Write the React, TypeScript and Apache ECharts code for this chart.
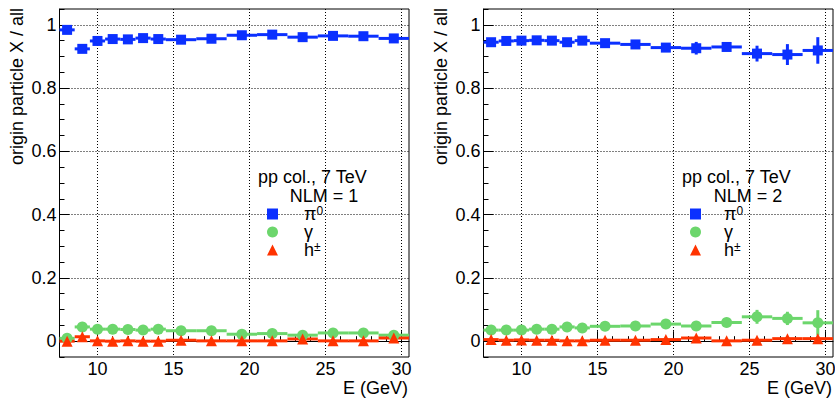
import React, { useEffect, useRef } from "react";
import * as echarts from "echarts";

// Bin centres (GeV) and half widths
const energy = [8, 9, 10, 11, 12, 13, 14, 15.5, 17.5, 19.5, 21.5, 23.5, 25.5, 27.5, 29.5];
const binHalfWidth = [0.5, 0.5, 0.5, 0.5, 0.5, 0.5, 0.5, 1, 1, 1, 1, 1, 1, 1, 1];

// NLM = 1
const pi0NLM1 = [0.984, 0.924, 0.949, 0.955, 0.954, 0.958, 0.955, 0.953, 0.956, 0.967, 0.969, 0.961, 0.965, 0.964, 0.957];
const pi0NLM1Err = [0.006, 0.005, 0.004, 0.004, 0.004, 0.004, 0.004, 0.003, 0.003, 0.004, 0.004, 0.005, 0.005, 0.006, 0.007];
const gammaNLM1 = [0.009, 0.045, 0.038, 0.038, 0.037, 0.035, 0.038, 0.033, 0.033, 0.022, 0.024, 0.019, 0.026, 0.026, 0.019];
const gammaNLM1Err = [0.004, 0.004, 0.003, 0.003, 0.003, 0.003, 0.003, 0.003, 0.003, 0.003, 0.003, 0.004, 0.004, 0.005, 0.005];
const hadNLM1 = [0.0, 0.014, 0.001, 0.0, 0.001, 0.0, 0.0, 0.003, 0.001, 0.001, 0.001, 0.007, 0.001, 0.001, 0.01];
const hadNLM1Err = [0.001, 0.002, 0.001, 0.001, 0.001, 0.001, 0.001, 0.001, 0.001, 0.001, 0.001, 0.002, 0.001, 0.001, 0.002];

// NLM = 2
const pi0NLM2 = [0.945, 0.949, 0.95, 0.951, 0.95, 0.945, 0.95, 0.942, 0.938, 0.928, 0.926, 0.93, 0.909, 0.906, 0.919];
const pi0NLM2Err = [0.004, 0.004, 0.004, 0.004, 0.004, 0.005, 0.005, 0.006, 0.008, 0.01, 0.02, 0.013, 0.025, 0.033, 0.042];
const gammaNLM2 = [0.035, 0.035, 0.035, 0.038, 0.038, 0.045, 0.042, 0.047, 0.048, 0.054, 0.048, 0.059, 0.077, 0.072, 0.058];
const gammaNLM2Err = [0.003, 0.003, 0.003, 0.003, 0.004, 0.004, 0.004, 0.005, 0.006, 0.007, 0.01, 0.01, 0.022, 0.021, 0.04];
const hadNLM2 = [0.005, 0.003, 0.004, 0.003, 0.003, 0.001, 0.001, 0.003, 0.003, 0.005, 0.01, 0.001, 0.003, 0.008, 0.008];
const hadNLM2Err = [0.001, 0.001, 0.001, 0.001, 0.001, 0.001, 0.001, 0.002, 0.002, 0.003, 0.004, 0.002, 0.003, 0.005, 0.006];

// Axes
const xRange = [7.5, 30.5];
const yRange = [-0.05, 1.05];
const xMajorTicks = [10, 15, 20, 25, 30];
const xMinorTicks = [8, 9, 11, 12, 13, 14, 16, 17, 18, 19, 21, 22, 23, 24, 26, 27, 28, 29];
const yMajorTicks = [0, 0.2, 0.4, 0.6, 0.8, 1];
const yMinorStep = 0.05;

const speciesNames = ["π0", "γ", "h±"];
const speciesColors = ["#0b30ff", "#6cd66c", "#ff3300"];
const speciesSymbols = ["rect", "circle", "triangle"];
const speciesSizes = [10, 11, 11];
const panelTitles = ["pp col., 7 TeV", "pp col., 7 TeV"];
const panelNLM = ["NLM = 1", "NLM = 2"];
const yTitle = "origin particle X / all";
const xTitle = "E (GeV)";

const FONT = "'Liberation Sans', Arial, Helvetica, sans-serif";

const panels = [
  { values: [pi0NLM1, gammaNLM1, hadNLM1], errors: [pi0NLM1Err, gammaNLM1Err, hadNLM1Err] },
  { values: [pi0NLM2, gammaNLM2, hadNLM2], errors: [pi0NLM2Err, gammaNLM2Err, hadNLM2Err] },
];

const gridLayout = [
  { left: 59.5, top: 9, width: 349.5, height: 348 },
  { left: 483.5, top: 9, width: 349.5, height: 348 },
];

function buildOption() {
  const grid: any[] = [];
  const xAxis: any[] = [];
  const yAxis: any[] = [];
  const series: any[] = [];
  const legend: any[] = [];
  const graphic: any[] = [];

  const dotted = { color: "#000", width: 1, type: [1, 2] };
  const labelStyle = { color: "#000", fontSize: 18, fontFamily: FONT };

  panels.forEach((panel, i) => {
    const g = gridLayout[i];
    grid.push({
      ...g,
      show: true,
      borderColor: "#000",
      borderWidth: 1,
      backgroundColor: "transparent",
      containLabel: false,
      outerBoundsMode: "none",
    });
    // main x axis
    xAxis.push({
      gridIndex: i,
      type: "value",
      min: xRange[0],
      max: xRange[1],
      position: "bottom",
      axisLine: { show: true, lineStyle: { color: "#000", width: 1 } },
      axisTick: { show: true, inside: true, length: 10, customValues: xMajorTicks, lineStyle: { color: "#000" } },
      axisLabel: { show: true, customValues: xMajorTicks, margin: 3, ...labelStyle },
      splitLine: { show: true, lineStyle: dotted },
      minorTick: { show: false },
    });
    // minor x ticks
    xAxis.push({
      gridIndex: i,
      type: "value",
      min: xRange[0],
      max: xRange[1],
      position: "bottom",
      offset: 0,
      axisLine: { show: false },
      axisTick: { show: true, inside: true, length: 5, customValues: xMinorTicks, lineStyle: { color: "#000" } },
      axisLabel: { show: false },
      splitLine: { show: false },
    });
    // main y axis
    yAxis.push({
      gridIndex: i,
      type: "value",
      min: yRange[0],
      max: yRange[1],
      position: "left",
      axisLine: { show: true, lineStyle: { color: "#000", width: 1 } },
      axisTick: { show: true, inside: true, length: 10, customValues: yMajorTicks, lineStyle: { color: "#000" } },
      axisLabel: { show: true, customValues: yMajorTicks, margin: 3, formatter: (v: number) => String(Math.round(v * 10) / 10), ...labelStyle },
      splitLine: { show: true, lineStyle: dotted },
    });
    // minor y ticks
    yAxis.push({
      gridIndex: i,
      type: "value",
      min: yRange[0],
      max: yRange[1],
      interval: yMinorStep,
      position: "left",
      offset: 0,
      axisLine: { show: false },
      axisTick: { show: true, inside: true, length: 5, lineStyle: { color: "#000" } },
      axisLabel: { show: false },
      splitLine: { show: false },
    });

    panel.values.forEach((vals, s) => {
      const errs = panel.errors[s];
      const color = speciesColors[s];
      const data = energy.map((e, k) => [e, binHalfWidth[k], vals[k], errs[k]]);
      series.push({
        type: "custom",
        name: speciesNames[s] + "-err-" + i,
        xAxisIndex: 2 * i,
        yAxisIndex: 2 * i,
        clip: true,
        z: 2 + s,
        encode: { x: 0, y: 2 },
        data,
        renderItem: (params: any, api: any) => {
          const x = api.value(0);
          const hw = api.value(1);
          const y = api.value(2);
          const ey = api.value(3);
          const p1 = api.coord([x - hw, y]);
          const p2 = api.coord([x + hw, y]);
          const pt = api.coord([x, y + ey]);
          const pb = api.coord([x, y - ey]);
          return {
            type: "group",
            children: [
              { type: "line", shape: { x1: p1[0], y1: p1[1], x2: p2[0], y2: p2[1] }, style: { stroke: color, lineWidth: 3 } },
              { type: "line", shape: { x1: pt[0], y1: pt[1], x2: pb[0], y2: pb[1] }, style: { stroke: color, lineWidth: 3 } },
            ],
          };
        },
      });
      series.push({
        type: "scatter",
        name: speciesNames[s],
        xAxisIndex: 2 * i,
        yAxisIndex: 2 * i,
        symbol: speciesSymbols[s],
        symbolSize: speciesSizes[s],
        z: 5 + s,
        itemStyle: { color, opacity: 1 },
        data: energy.map((e, k) => [e, vals[k]]),
      });
    });

    const legendLeft = i === 0 ? 267 : 690;
    const gap = i === 0 ? 21 : 18;
    legend.push({
      left: legendLeft,
      top: 205,
      orient: "vertical",
      itemWidth: 11,
      itemHeight: 11,
      itemGap: 0,
      padding: 0,
      selectedMode: false,
      data: speciesNames.map((n, s) => ({ name: n, icon: speciesSymbols[s] })),
      formatter: (name: string) => {
        if (name === "π0") return "{g| }{m|π}{s|0}";
        if (name === "γ") return "{g| }{m|γ}";
        return "{g| }{m|h}{s|±}";
      },
      textStyle: {
        color: "#000",
        fontFamily: FONT,
        fontSize: 18,
        lineHeight: 18,
        rich: {
          g: { width: gap, fontSize: 18, lineHeight: 18 },
          m: { fontSize: 18, lineHeight: 18, color: "#000", fontFamily: FONT },
          s: { fontSize: 12, lineHeight: 7, verticalAlign: "top", color: "#000", fontFamily: FONT },
        },
      },
    });

    const titleLeft = i === 0 ? 258 : 682;
    const nlmCenter = i === 0 ? 324 : 748;
    graphic.push({
      type: "text",
      x: titleLeft,
      y: 177,
      style: { text: panelTitles[i], fontSize: 18, fontFamily: FONT, fill: "#000", align: "left", verticalAlign: "middle" },
    });
    graphic.push({
      type: "text",
      x: nlmCenter,
      y: 196,
      style: { text: panelNLM[i], fontSize: 18, fontFamily: FONT, fill: "#000", align: "center", verticalAlign: "middle" },
    });
    graphic.push({
      type: "text",
      x: i === 0 ? 17 : 441,
      y: 8,
      rotation: Math.PI / 2,
      style: { text: yTitle, fontSize: 18, fontFamily: FONT, fill: "#000", align: "right", verticalAlign: "middle" },
    });
    graphic.push({
      type: "text",
      x: g.left + g.width - 1,
      y: 388,
      style: { text: xTitle, fontSize: 18, fontFamily: FONT, fill: "#000", align: "right", verticalAlign: "middle" },
    });
  });

  return {
    animation: false,
    backgroundColor: "#fff",
    textStyle: { fontFamily: FONT },
    grid,
    xAxis,
    yAxis,
    series,
    legend,
    graphic,
    tooltip: { show: false },
  };
}

export default function App() {
  const ref = useRef<HTMLDivElement | null>(null);
  useEffect(() => {
    document.body.style.margin = "0";
    if (!ref.current) return;
    const chart = echarts.init(ref.current, null, { renderer: "svg" });
    chart.setOption(buildOption() as any);
    return () => chart.dispose();
  }, []);
  return (
    <div
      ref={ref}
      style={{ position: "absolute", left: 0, top: 0, width: 835, height: 398, background: "#fff" }}
    />
  );
}
